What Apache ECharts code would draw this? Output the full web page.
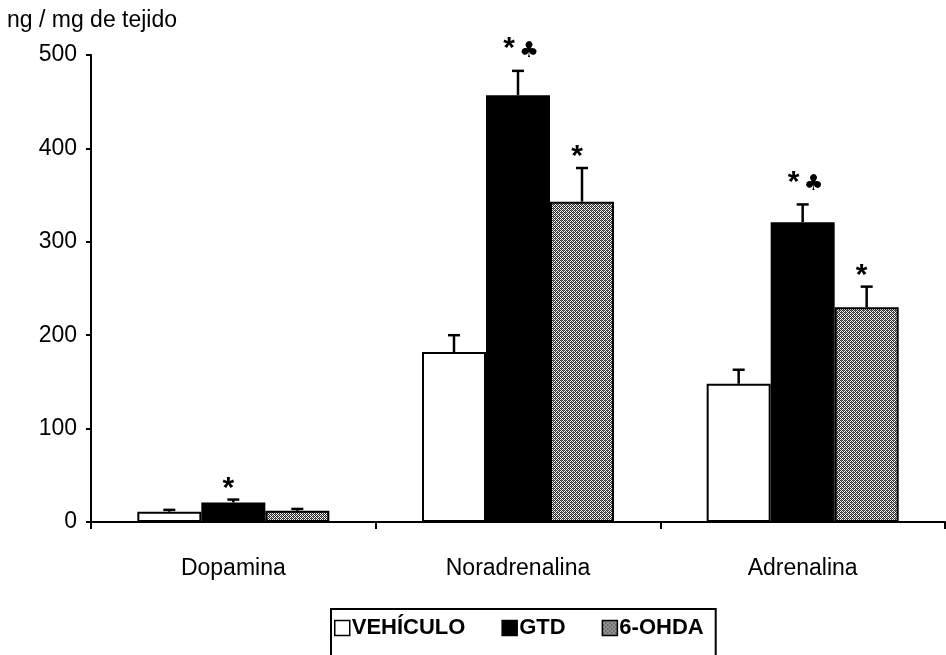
<!DOCTYPE html>
<html><head><meta charset="utf-8">
<script src="https://cdn.jsdelivr.net/npm/echarts@6/dist/echarts.min.js"></script>
<style>html,body{margin:0;padding:0;background:#fff}#c{width:946px;height:655px}</style>
</head><body><div id="c"></div>
<script>
const categories = ['Dopamina', 'Noradrenalina', 'Adrenalina'];
const seriesNames = ['VEHÍCULO', 'GTD', '6-OHDA'];
const vehValues = [11, 182, 148];
const gtdValues = [21, 457, 321];
const ohdaValues = [12, 343, 230];
const vehErrTop = [13, 200, 163];
const gtdErrTop = [24, 483, 340];
const ohdaErrTop = [14, 379, 252];
const vehMarks = ['', '', ''];
const gtdMarks = ['*', '*♣', '*♣'];
const ohdaMarks = ['', '*', '*'];
const yTicks = [0, 100, 200, 300, 400, 500];

const FONT = '"Liberation Sans", Arial, sans-serif';
const BAR_W = 64;

function makePattern() {
  const c = document.createElement('canvas');
  c.width = 4; c.height = 4;
  const g = c.getContext('2d');
  g.fillStyle = '#ffffff'; g.fillRect(0, 0, 4, 4);
  g.fillStyle = '#2a2a2a';
  g.fillRect(0, 0, 1, 1); g.fillRect(2, 0, 1, 1);
  g.fillRect(1, 1, 1, 1); g.fillRect(3, 1, 1, 1);
  g.fillRect(0, 2, 1, 1); g.fillRect(2, 2, 1, 1);
  g.fillRect(1, 3, 1, 1); g.fillRect(3, 3, 1, 1);
  g.fillStyle = '#777';
  g.fillRect(1, 0, 1, 1); g.fillRect(3, 2, 1, 1);
  return c;
}
const pattern = { image: makePattern(), repeat: 'repeat' };

const values = [vehValues, gtdValues, ohdaValues];
const errTops = [vehErrTop, gtdErrTop, ohdaErrTop];
const marks = [vehMarks, gtdMarks, ohdaMarks];
const fills = ['#ffffff', '#000000', pattern];

const errData = [];
for (let s = 0; s < 3; s++) {
  for (let i = 0; i < categories.length; i++) {
    errData.push([i, values[s][i], errTops[s][i], s]);
  }
}

const series = seriesNames.map((n, s) => ({
  name: n,
  type: 'bar',
  data: values[s],
  barWidth: BAR_W,
  barGap: '0%',
  itemStyle: { color: fills[s], borderColor: '#000', borderWidth: 2 },
  emphasis: { disabled: true }
}));

series.push({
  type: 'custom',
  name: 'err',
  data: errData,
  z: 10,
  silent: true,
  renderItem: function (params, api) {
    const idx = api.value(0);
    const s = api.value(3);
    const x = api.coord([idx, 0])[0] + (s - 1) * BAR_W;
    const yTop = api.coord([idx, api.value(1)])[1];
    const yErr = api.coord([idx, api.value(2)])[1];
    const children = [
      { type: 'line', shape: { x1: x, y1: yTop, x2: x, y2: yErr }, style: { stroke: '#000', lineWidth: 2.5 } },
      { type: 'line', shape: { x1: x - 6, y1: yErr, x2: x + 6, y2: yErr }, style: { stroke: '#000', lineWidth: 2.5 } }
    ];
    const m = marks[s][idx];
    if (m.indexOf('♣') >= 0) {
      children.push({ type: 'text', style: { text: '*', x: x - 9, y: yErr - 22, font: 'bold 30px ' + FONT, fill: '#000', align: 'center', verticalAlign: 'middle' } });
      children.push({ type: 'text', style: { text: '♣', x: x + 11, y: yErr - 20, font: '22px "DejaVu Sans", sans-serif', fill: '#000', align: 'center', verticalAlign: 'middle' } });
    } else if (m === '*') {
      children.push({ type: 'text', style: { text: '*', x: x - 5, y: yErr - 11, font: 'bold 30px ' + FONT, fill: '#000', align: 'center', verticalAlign: 'middle' } });
    }
    return { type: 'group', children: children };
  }
});

const chart = echarts.init(document.getElementById('c'), null, { renderer: 'canvas' });
chart.setOption({
  animation: false,
  backgroundColor: '#ffffff',
  title: {
    text: 'ng / mg de tejido', left: 2, top: 4,
    textStyle: { fontFamily: FONT, fontSize: 23, fontWeight: 'normal', color: '#000' }
  },
  grid: { left: 91, right: 1, top: 55, bottom: 133 },
  legend: {
    data: seriesNames,
    left: 331, top: 609,
    itemWidth: 15, itemHeight: 15, itemGap: 36,
    icon: 'rect',
    padding: [8, 12, 30, 3],
    borderColor: '#000', borderWidth: 2,
    textStyle: { fontFamily: FONT, fontSize: 22, fontWeight: 'bold', color: '#000', padding: [0, 0, 0, -3] },
    itemStyle: { borderColor: '#000', borderWidth: 1.5 },
    selectedMode: false
  },
  xAxis: {
    type: 'category', data: categories,
    axisLine: { lineStyle: { color: '#000', width: 2 } },
    axisTick: { show: true, length: 7, lineStyle: { color: '#000', width: 2 } },
    axisLabel: { fontFamily: FONT, fontSize: 23, color: '#000', margin: 35 }
  },
  yAxis: {
    type: 'value', min: yTicks[0], max: yTicks[yTicks.length - 1], interval: 100,
    splitLine: { show: false },
    axisLine: { show: true, lineStyle: { color: '#000', width: 2 } },
    axisTick: { show: true, length: 5, lineStyle: { color: '#000', width: 2 } },
    axisLabel: { fontFamily: FONT, fontSize: 23, color: '#000', margin: 14 }
  },
  series: series
});
</script></body></html>
